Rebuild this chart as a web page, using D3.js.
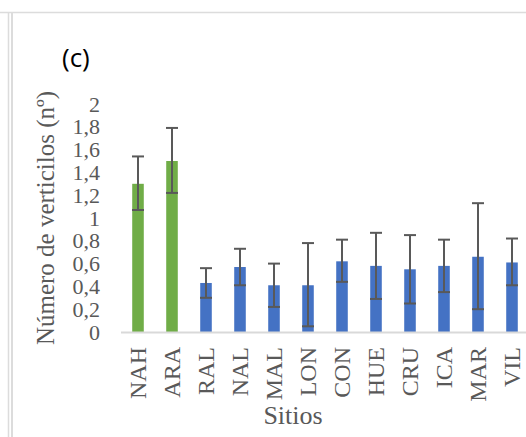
<!DOCTYPE html>
<html>
<head>
<meta charset="utf-8">
<script src="https://cdn.jsdelivr.net/npm/d3@7"></script>
<style>
  body { margin: 0; background: #fff; }
  svg { display: block; }
</style>
</head>
<body>
<div id="chart"></div>
<script>
// Sites and mean number of whorls, with upper / lower error bar ends
const sites = ["NAH", "ARA", "RAL", "NAL", "MAL", "LON", "CON", "HUE", "CRU", "ICA", "MAR", "VIL"];
const means = [1.30, 1.50, 0.43, 0.57, 0.41, 0.41, 0.62, 0.58, 0.55, 0.58, 0.66, 0.61];
const errHigh = [1.54, 1.79, 0.56, 0.73, 0.60, 0.78, 0.81, 0.87, 0.85, 0.81, 1.13, 0.82];
const errLow = [1.07, 1.22, 0.30, 0.41, 0.22, 0.05, 0.44, 0.29, 0.25, 0.35, 0.20, 0.41];
const greenSites = ["NAH", "ARA"];
const yTicks = [0, 0.2, 0.4, 0.6, 0.8, 1, 1.2, 1.4, 1.6, 1.8, 2];

const width = 526, height = 437;
const plot = { left: 121, right: 529, top: 104, bottom: 332 };
const serif = "'Liberation Serif', 'Times New Roman', serif";

const svg = d3.select("#chart").append("svg")
    .attr("width", width)
    .attr("height", height);

// frame lines of the figure panel
const frame = svg.append("g").attr("stroke", "#dcdcdc").attr("fill", "none");
frame.append("line").attr("x1", 0).attr("x2", width).attr("y1", 12.5).attr("y2", 12.5).attr("stroke-width", 1.5);
frame.append("line").attr("x1", 8.5).attr("x2", 8.5).attr("y1", 12).attr("y2", height).attr("stroke-width", 1.5);
frame.append("line").attr("x1", 12).attr("x2", 12).attr("y1", 12).attr("y2", height).attr("stroke-width", 2);

const x = d3.scaleBand()
    .domain(sites)
    .range([plot.left, plot.right])
    .paddingInner(0.66)
    .paddingOuter(0.33);

const y = d3.scaleLinear()
    .domain([0, 2])
    .range([plot.bottom, plot.top]);

// bars
svg.append("g")
    .selectAll("rect")
    .data(sites)
    .enter()
    .append("rect")
    .attr("x", d => x(d))
    .attr("y", (d, i) => y(means[i]))
    .attr("width", x.bandwidth())
    .attr("height", (d, i) => y(0) - y(means[i]))
    .attr("fill", d => greenSites.includes(d) ? "#70ad47" : "#4472c4");

// x axis line
svg.append("line")
    .attr("x1", plot.left).attr("x2", width)
    .attr("y1", y(0) + 0.5).attr("y2", y(0) + 0.5)
    .attr("stroke", "#d9d9d9")
    .attr("stroke-width", 2);

// error bars
const err = svg.append("g").attr("stroke", "#595959").attr("stroke-width", 2);
sites.forEach((s, i) => {
    const cx = x(s) + x.bandwidth() / 2;
    err.append("line").attr("x1", cx).attr("x2", cx).attr("y1", y(errHigh[i])).attr("y2", y(errLow[i]));
    err.append("line").attr("x1", cx - 6).attr("x2", cx + 6).attr("y1", y(errHigh[i])).attr("y2", y(errHigh[i]));
    err.append("line").attr("x1", cx - 6).attr("x2", cx + 6).attr("y1", y(errLow[i])).attr("y2", y(errLow[i]));
});

// y axis labels
const yAxis = d3.axisLeft(y)
    .tickValues(yTicks)
    .tickSize(0)
    .tickPadding(0)
    .tickFormat(d => String(d).replace(".", ","));

svg.append("g")
    .attr("transform", "translate(100,0)")
    .call(yAxis)
    .call(g => g.select(".domain").remove())
    .selectAll("text")
    .attr("font-family", serif)
    .attr("font-size", 22)
    .attr("fill", "#595959");

// x axis labels (rotated)
const xAxis = d3.axisBottom(x).tickSize(0).tickPadding(0);
svg.append("g")
    .attr("transform", `translate(0,${plot.bottom})`)
    .call(xAxis)
    .call(g => g.select(".domain").remove())
    .selectAll("text")
    .attr("font-family", serif)
    .attr("font-size", 24)
    .attr("fill", "#595959")
    .attr("text-anchor", "end")
    .attr("dy", "0.35em")
    .attr("transform", "translate(0,15) rotate(-90)")
    .attr("y", 0)
    .attr("x", 0);

// axis titles
svg.append("text")
    .attr("x", 293)
    .attr("y", 424)
    .attr("text-anchor", "middle")
    .attr("font-family", serif)
    .attr("font-size", 26)
    .attr("fill", "#595959")
    .text("Sitios");

svg.append("text")
    .attr("transform", "translate(54,218) rotate(-90)")
    .attr("text-anchor", "middle")
    .attr("font-family", serif)
    .attr("font-size", 25)
    .attr("fill", "#595959")
    .text("Número de verticilos (nº)");

// panel letter
svg.append("text")
    .attr("x", 62)
    .attr("y", 67)
    .attr("font-family", "'Open Sans', 'Liberation Sans', sans-serif")
    .attr("font-size", 26)
    .attr("fill", "#000")
    .text("(c)");
</script>
</body>
</html>
